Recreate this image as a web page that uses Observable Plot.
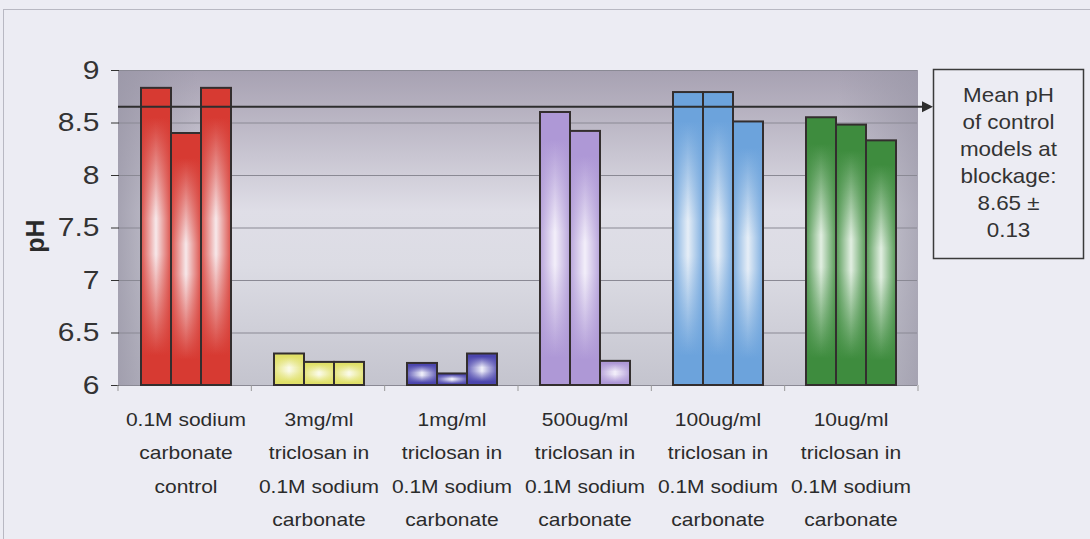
<!DOCTYPE html>
<html><head><meta charset="utf-8">
<script src="https://cdn.jsdelivr.net/npm/d3@7"></script>
<script src="https://cdn.jsdelivr.net/npm/@observablehq/plot@0.6"></script>
<style>
html,body{margin:0;padding:0;background:#ececf3;}
#chart{position:relative;width:1090px;height:539px;overflow:hidden;}
</style></head><body><div id="chart"></div>
<script>
// ---- data ----
const groups = [
  "0.1M sodium carbonate control",
  "3mg/ml triclosan in 0.1M sodium carbonate",
  "1mg/ml triclosan in 0.1M sodium carbonate",
  "500ug/ml triclosan in 0.1M sodium carbonate",
  "100ug/ml triclosan in 0.1M sodium carbonate",
  "10ug/ml triclosan in 0.1M sodium carbonate"
];
const groupLabels = [
  "0.1M sodium\ncarbonate\ncontrol",
  "3mg/ml\ntriclosan in\n0.1M sodium\ncarbonate",
  "1mg/ml\ntriclosan in\n0.1M sodium\ncarbonate",
  "500ug/ml\ntriclosan in\n0.1M sodium\ncarbonate",
  "100ug/ml\ntriclosan in\n0.1M sodium\ncarbonate",
  "10ug/ml\ntriclosan in\n0.1M sodium\ncarbonate"
];
const replicate1 = [8.83, 6.30, 6.21, 8.60, 8.79, 8.55];
const replicate2 = [8.40, 6.22, 6.11, 8.42, 8.79, 8.48];
const replicate3 = [8.83, 6.22, 6.30, 6.23, 8.51, 8.33];
const yTicks = [6, 6.5, 7, 7.5, 8, 8.5, 9];
const yLabel = "pH";
const meanControl = 8.65;
const meanSD = 0.13;
const noteLines = ["Mean pH", "of control", "models at", "blockage:", meanControl.toFixed(2) + " \u00b1", meanSD.toFixed(2)];
const barColors = [
  {edge: "#d73a32", center: "#f7e8ea"},
  {edge: "#e0e068", center: "#fbfbea"},
  {edge: "#4b45ad", center: "#f0f0fa"},
  {edge: "#ae98d6", center: "#f3effa"},
  {edge: "#6ca3dc", center: "#e6eef7"},
  {edge: "#3e8c3e", center: "#e2efe2"}
];

const rows = groups.flatMap((g, gi) =>
  [replicate1, replicate2, replicate3].map((arr, ri) => ({group: g, gi, rep: ri, pH: arr[gi]})));

const W = 1090, H = 539, mL = 118, mR = 172, mT = 70, mB = 154;
const STRETCH = 1.2;

const plot = Plot.plot({
  width: W, height: H,
  marginLeft: mL, marginRight: mR, marginTop: mT, marginBottom: mB,
  style: {background: "transparent", color: "#333", fontFamily: "'Liberation Sans', Arial, sans-serif", fontSize: "25px", overflow: "visible"},
  fx: {domain: groups, padding: 0, axis: null, label: null},
  x: {domain: [0, 1, 2], paddingInner: 0, paddingOuter: 0.7, axis: null},
  y: {domain: [6, 9], ticks: yTicks, tickFormat: d => String(d), tickSize: 8, tickPadding: 12, grid: true, label: null},
  color: {type: "identity"},
  marks: [
    Plot.barY(rows, {fx: "group", x: "rep", y1: 6, y2: "pH", fill: d => `url(#bv${d.gi})`}),
    Plot.barY(rows, {fx: "group", x: "rep", y1: 6, y2: "pH", fill: d => `url(#bh${d.gi})`, stroke: "#332e2e", strokeWidth: 2}),
    Plot.text(groups, {fx: d => d, text: (d, i) => groupLabels[i], frameAnchor: "bottom", lineAnchor: "top", dy: 17, lineHeight: 1.9, fontSize: 17.5, fill: "#2b2b2b"})
  ]
});
document.getElementById("chart").appendChild(plot);

const svg = d3.select(plot);
// stretch scanned-looking text horizontally
svg.selectAll("text").each(function () {
  const t = this.getAttribute("transform") || "";
  this.setAttribute("transform", t + ` scale(${STRETCH},1)`);
});
svg.selectAll('[aria-label="y-grid"]').attr("stroke", "#8a8994").attr("stroke-opacity", 1);
svg.selectAll('[aria-label="y-grid"] line, [aria-label="y-grid"] path').attr("stroke", "#8a8994").attr("stroke-opacity", 1);
svg.selectAll('[aria-label="y-axis tick"]').attr("stroke", "#888");

// defs (gradients)
const under = svg.insert("g", ":first-child");
const defs = under.append("defs");
barColors.forEach((c, i) => {
  const v = defs.append("linearGradient").attr("id", `bv${i}`).attr("x1", 0).attr("y1", 0).attr("x2", 0).attr("y2", 1);
  [[0, c.edge], [0.1, c.edge], [0.44, c.center], [0.56, c.center], [0.9, c.edge], [1, c.edge]]
    .forEach(([o, col]) => v.append("stop").attr("offset", o).attr("stop-color", col));
  const h = defs.append("linearGradient").attr("id", `bh${i}`).attr("x1", 0).attr("y1", 0).attr("x2", 1).attr("y2", 0);
  [[0, 0.85], [0.5, 0], [1, 0.85]]
    .forEach(([o, op]) => h.append("stop").attr("offset", o).attr("stop-color", c.edge).attr("stop-opacity", op));
});
const bgv = defs.append("linearGradient").attr("id", "bgv").attr("x1", 0).attr("y1", 0).attr("x2", 0).attr("y2", 1);
[[0, "#a7a1b2"], [0.1, "#b3aebd"], [0.45, "#dfdee7"], [0.62, "#dcdce4"], [1, "#c4c4ce"]]
  .forEach(([o, col]) => bgv.append("stop").attr("offset", o).attr("stop-color", col));
const bgh = defs.append("linearGradient").attr("id", "bgh").attr("x1", 0).attr("y1", 0).attr("x2", 1).attr("y2", 0);
[[0, 0.85], [0.1, 0], [0.9, 0], [1, 0.75]]
  .forEach(([o, op]) => bgh.append("stop").attr("offset", o).attr("stop-color", "#9b98a8").attr("stop-opacity", op));

// faint outer chart border from the scan
under.append("rect").attr("x", 3.5).attr("y", 9.5).attr("width", W + 10).attr("height", H + 10)
  .attr("fill", "none").attr("stroke", "#b8b8c2").attr("stroke-width", 1);
// plot area background
const pw = W - mL - mR, ph = H - mT - mB;
under.append("rect").attr("x", mL).attr("y", mT).attr("width", pw).attr("height", ph).attr("fill", "url(#bgv)");
under.append("rect").attr("x", mL).attr("y", mT).attr("width", pw).attr("height", ph).attr("fill", "url(#bgh)");

// scales
const ys = plot.scale("y");
const yOf = v => ys.apply ? ys.apply(v) : d3.scaleLinear(ys.domain, ys.range)(v);
const over = svg.append("g");

// category tick marks at the band edges
const step = pw / groups.length;
d3.range(groups.length + 1).forEach(k => {
  over.append("line").attr("x1", mL + k * step).attr("x2", mL + k * step)
    .attr("y1", H - mB).attr("y2", H - mB + 6).attr("stroke", "#999").attr("stroke-width", 1);
});

// mean line with arrow to the note box
const boxX = 933, boxY = 69, boxW = 150, boxH = 189;
const my = yOf(meanControl);
over.append("line").attr("x1", mL).attr("x2", boxX - 8).attr("y1", my).attr("y2", my)
  .attr("stroke", "#2e2e2e").attr("stroke-width", 2);
over.append("path").attr("d", `M${boxX - 11},${my - 5.5}L${boxX},${my}L${boxX - 11},${my + 5.5}Z`).attr("fill", "#2e2e2e");

// note box
over.append("rect").attr("x", boxX + 0.5).attr("y", boxY + 0.5).attr("width", boxW).attr("height", boxH)
  .attr("fill", "none").attr("stroke", "#3a3a3a").attr("stroke-width", 1.5);
noteLines.forEach((t, i) => {
  over.append("text").attr("transform", `translate(${boxX + boxW / 2 + 0.5},${102 + 27 * i}) scale(1.12,1)`)
    .attr("text-anchor", "middle").attr("font-size", 20).attr("fill", "#333")
    .attr("font-family", "'Liberation Sans', Arial, sans-serif").text(t);
});

// y label
over.append("text").attr("transform", `translate(44,236) rotate(-90)`)
  .attr("text-anchor", "middle").attr("font-size", 25).attr("font-weight", "bold").attr("fill", "#2a2a2a")
  .attr("font-family", "'Liberation Sans', Arial, sans-serif").text(yLabel);
</script></body></html>
